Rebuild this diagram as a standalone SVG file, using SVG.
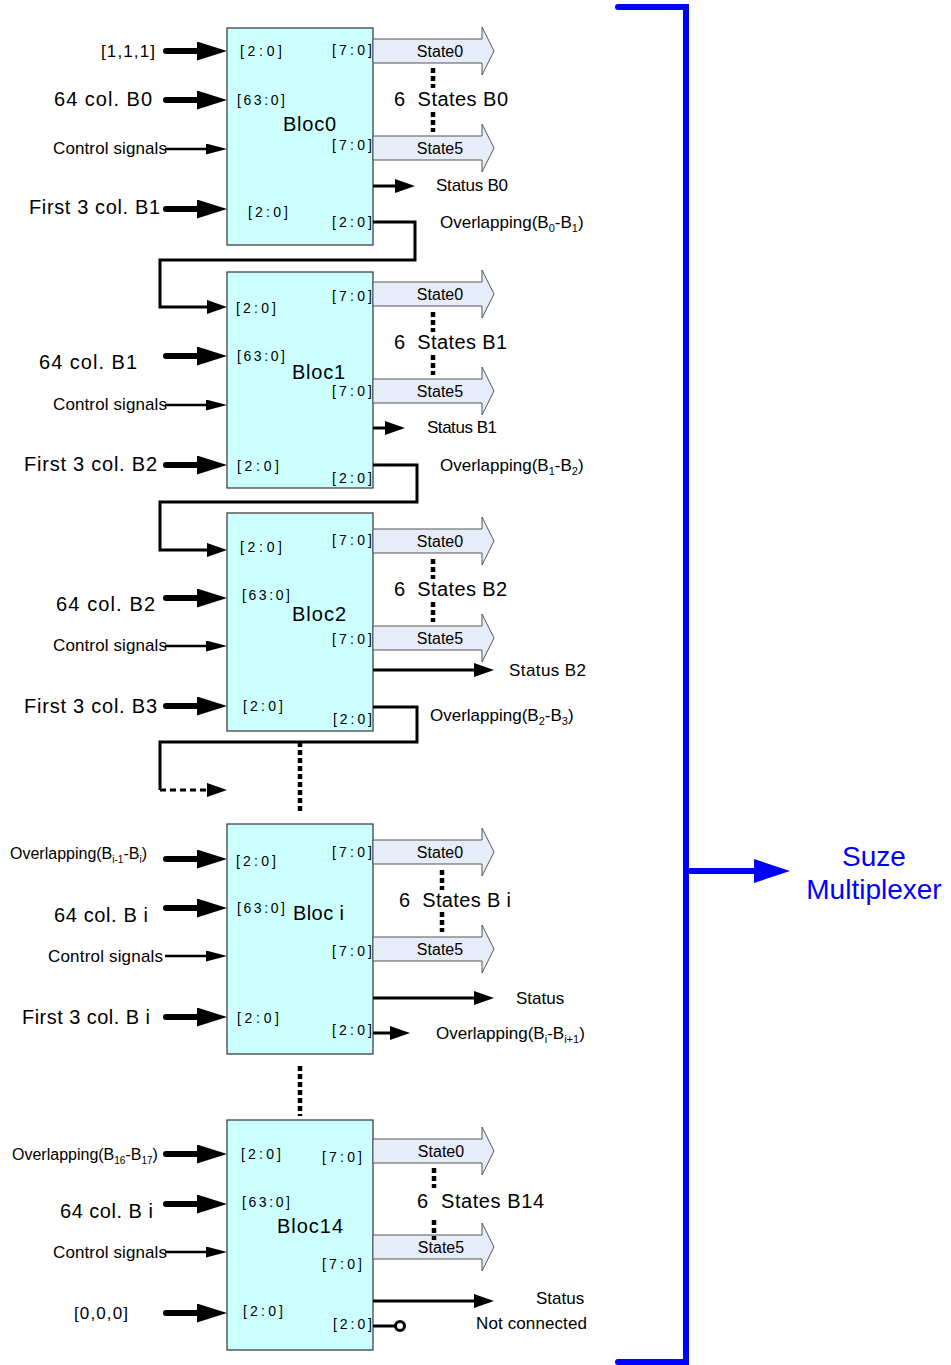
<svg xmlns="http://www.w3.org/2000/svg" width="951" height="1365" viewBox="0 0 951 1365">
<style>
text{font-family:"Liberation Sans",Arial,sans-serif;fill:#000}
.blk{fill:#ccffff;stroke:#333;stroke-width:1.2}
.t20{font-size:20px}
.t17{font-size:17px}
.t16{font-size:16px}
.pin{font-size:14px}
.ttl{font-size:20px}
.thick{fill:none;stroke:#000;stroke-width:6;stroke-linecap:round;marker-end:url(#mThick)}
.thin{fill:none;stroke:#000;stroke-width:2.5;marker-end:url(#mThin)}
.med{fill:none;stroke:#000;stroke-width:3;marker-end:url(#mMed)}
.wire{fill:none;stroke:#000;stroke-width:3;stroke-linejoin:miter}
.dots{fill:none;stroke:#000;stroke-width:4.5;stroke-dasharray:5 3}
.st{fill:#e6ecf8;stroke:#555;stroke-width:1}
.blue{fill:none;stroke:#0000ff;stroke-width:6}
.bt{font-size:28px;fill:#0000ff}
</style>
<defs>
<marker id="mThick" markerUnits="userSpaceOnUse" markerWidth="30" markerHeight="19" refX="8" refY="9.5" orient="auto"><path d="M0,0 L30,9.5 L0,19 z" fill="#000"/></marker>
<marker id="mThin" markerUnits="userSpaceOnUse" markerWidth="21" markerHeight="11" refX="5" refY="5.5" orient="auto"><path d="M0,0 L21,5.5 L0,11 z" fill="#000"/></marker>
<marker id="mMed" markerUnits="userSpaceOnUse" markerWidth="20" markerHeight="14" refX="5" refY="7" orient="auto"><path d="M0,0 L20,7 L0,14 z" fill="#000"/></marker>
<marker id="mBlue" markerUnits="userSpaceOnUse" markerWidth="36" markerHeight="24" refX="5" refY="12" orient="auto"><path d="M0,0 L36,12 L0,24 z" fill="#0000ff"/></marker>
<path id="stArrow" d="M0,-12 H109 V-24 L121,0 L109,24 V12 H0 Z"/>
</defs>

<!-- Blue bracket to multiplexer -->
<g id="multiplexer">
<path class="blue" d="M618,7 H686 V1362 H618" stroke-linecap="round"/>
<line class="blue" x1="686" y1="871" x2="759" y2="871" marker-end="url(#mBlue)"/>
<text class="bt" x="874" y="866" text-anchor="middle">Suze</text>
<text class="bt" x="874" y="899" text-anchor="middle">Multiplexer</text>
</g>

<!-- Bloc0 -->
<g id="bloc0">
<rect class="blk" x="227" y="28" width="146" height="217"/>
<text class="pin" x="240" y="56" textLength="42" lengthAdjust="spacing">[2:0]</text>
<text class="pin" x="332" y="55" textLength="40" lengthAdjust="spacing">[7:0]</text>
<text class="pin" x="237" y="105" textLength="48" lengthAdjust="spacing">[63:0]</text>
<text class="ttl" x="283" y="131" textLength="53" lengthAdjust="spacing">Bloc0</text>
<text class="pin" x="332" y="150" textLength="40" lengthAdjust="spacing">[7:0]</text>
<text class="pin" x="248" y="217" textLength="40" lengthAdjust="spacing">[2:0]</text>
<text class="pin" x="332" y="227" textLength="40" lengthAdjust="spacing">[2:0]</text>
</g>
<g id="bloc0-states">
<use href="#stArrow" class="st" x="373" y="51"/>
<text class="t16" x="440" y="57" text-anchor="middle">State0</text>
<use href="#stArrow" class="st" x="373" y="148"/>
<text class="t16" x="440" y="154" text-anchor="middle">State5</text>
<line class="dots" x1="433" y1="68" x2="433" y2="88"/>
<line class="dots" x1="433" y1="112" x2="433" y2="132"/>
<text class="t20" x="394" y="106" style="white-space:pre" textLength="114" lengthAdjust="spacing">6  States B0</text>
</g>

<!-- Bloc1 -->
<g id="bloc1">
<rect class="blk" x="227" y="272" width="146" height="216"/>
<text class="pin" x="236" y="313" textLength="40" lengthAdjust="spacing">[2:0]</text>
<text class="pin" x="332" y="301" textLength="40" lengthAdjust="spacing">[7:0]</text>
<text class="pin" x="237" y="361" textLength="48" lengthAdjust="spacing">[63:0]</text>
<text class="ttl" x="292" y="379" textLength="53" lengthAdjust="spacing">Bloc1</text>
<text class="pin" x="332" y="396" textLength="40" lengthAdjust="spacing">[7:0]</text>
<text class="pin" x="237" y="471" textLength="42" lengthAdjust="spacing">[2:0]</text>
<text class="pin" x="332" y="483" textLength="40" lengthAdjust="spacing">[2:0]</text>
</g>
<g id="bloc1-states">
<use href="#stArrow" class="st" x="373" y="294"/>
<text class="t16" x="440" y="300" text-anchor="middle">State0</text>
<use href="#stArrow" class="st" x="373" y="391"/>
<text class="t16" x="440" y="397" text-anchor="middle">State5</text>
<line class="dots" x1="433" y1="312" x2="433" y2="332"/>
<line class="dots" x1="433" y1="355" x2="433" y2="375"/>
<text class="t20" x="394" y="349" style="white-space:pre" textLength="113" lengthAdjust="spacing">6  States B1</text>
</g>

<!-- Bloc2 -->
<g id="bloc2">
<rect class="blk" x="227" y="513" width="146" height="218"/>
<text class="pin" x="240" y="552" textLength="42" lengthAdjust="spacing">[2:0]</text>
<text class="pin" x="332" y="545" textLength="40" lengthAdjust="spacing">[7:0]</text>
<text class="pin" x="242" y="600" textLength="48" lengthAdjust="spacing">[63:0]</text>
<text class="ttl" x="292" y="621" textLength="54" lengthAdjust="spacing">Bloc2</text>
<text class="pin" x="332" y="644" textLength="40" lengthAdjust="spacing">[7:0]</text>
<text class="pin" x="243" y="711" textLength="40" lengthAdjust="spacing">[2:0]</text>
<text class="pin" x="333" y="724" textLength="39" lengthAdjust="spacing">[2:0]</text>
</g>
<g id="bloc2-states">
<use href="#stArrow" class="st" x="373" y="541"/>
<text class="t16" x="440" y="547" text-anchor="middle">State0</text>
<use href="#stArrow" class="st" x="373" y="638"/>
<text class="t16" x="440" y="644" text-anchor="middle">State5</text>
<line class="dots" x1="433" y1="559" x2="433" y2="579"/>
<line class="dots" x1="433" y1="602" x2="433" y2="622"/>
<text class="t20" x="394" y="596" style="white-space:pre" textLength="113" lengthAdjust="spacing">6  States B2</text>
</g>

<!-- Bloc i -->
<g id="bloci">
<rect class="blk" x="227" y="824" width="146" height="230"/>
<text class="pin" x="236" y="866" textLength="40" lengthAdjust="spacing">[2:0]</text>
<text class="pin" x="332" y="857" textLength="40" lengthAdjust="spacing">[7:0]</text>
<text class="pin" x="237" y="913" textLength="48" lengthAdjust="spacing">[63:0]</text>
<text class="ttl" x="293" y="920" textLength="51" lengthAdjust="spacing">Bloc i</text>
<text class="pin" x="332" y="956" textLength="40" lengthAdjust="spacing">[7:0]</text>
<text class="pin" x="237" y="1023" textLength="42" lengthAdjust="spacing">[2:0]</text>
<text class="pin" x="332" y="1035" textLength="40" lengthAdjust="spacing">[2:0]</text>
</g>
<g id="bloci-states">
<use href="#stArrow" class="st" x="373" y="852"/>
<text class="t16" x="440" y="858" text-anchor="middle">State0</text>
<use href="#stArrow" class="st" x="373" y="949"/>
<text class="t16" x="440" y="955" text-anchor="middle">State5</text>
<line class="dots" x1="442" y1="870" x2="442" y2="890"/>
<line class="dots" x1="442" y1="912" x2="442" y2="932"/>
<text class="t20" x="399" y="907" style="white-space:pre" textLength="112" lengthAdjust="spacing">6  States B i</text>
</g>

<!-- Bloc14 -->
<g id="bloc14">
<rect class="blk" x="227" y="1120" width="146" height="230"/>
<text class="pin" x="241" y="1159" textLength="40" lengthAdjust="spacing">[2:0]</text>
<text class="pin" x="322" y="1162" textLength="40" lengthAdjust="spacing">[7:0]</text>
<text class="pin" x="242" y="1207" textLength="48" lengthAdjust="spacing">[63:0]</text>
<text class="ttl" x="277" y="1233" textLength="66" lengthAdjust="spacing">Bloc14</text>
<text class="pin" x="322" y="1269" textLength="40" lengthAdjust="spacing">[7:0]</text>
<text class="pin" x="243" y="1316" textLength="40" lengthAdjust="spacing">[2:0]</text>
<text class="pin" x="333" y="1329" textLength="39" lengthAdjust="spacing">[2:0]</text>
</g>
<g id="bloc14-states">
<use href="#stArrow" class="st" x="373" y="1151"/>
<text class="t16" x="441" y="1157" text-anchor="middle">State0</text>
<use href="#stArrow" class="st" x="373" y="1247"/>
<text class="t16" x="441" y="1253" text-anchor="middle">State5</text>
<line class="dots" x1="434" y1="1168" x2="434" y2="1188"/>
<line class="dots" x1="434" y1="1220" x2="434" y2="1240"/>
<text class="t20" x="417" y="1208" style="white-space:pre" textLength="127" lengthAdjust="spacing">6  States B14</text>
</g>

<!-- Connectors -->
<g id="connectors">
<!-- Bloc0 inputs -->
<line class="thick" x1="166" y1="51" x2="205" y2="51"/>
<line class="thick" x1="166" y1="100" x2="205" y2="100"/>
<line class="thin" x1="165" y1="149" x2="211" y2="149"/>
<line class="thick" x1="166" y1="209" x2="205" y2="209"/>
<!-- Bloc0 outputs -->
<line class="med" x1="373" y1="186" x2="400" y2="186"/>
<path class="wire" d="M373,222 H415 V260 H160 V307 H212" marker-end="url(#mMed)"/>
<!-- Bloc1 inputs -->
<line class="thick" x1="166" y1="356" x2="205" y2="356"/>
<line class="thin" x1="165" y1="405" x2="211" y2="405"/>
<line class="thick" x1="166" y1="465" x2="205" y2="465"/>
<!-- Bloc1 outputs -->
<line class="med" x1="373" y1="428" x2="390" y2="428"/>
<path class="wire" d="M373,465 H417 V502 H160 V550 H212" marker-end="url(#mMed)"/>
<!-- Bloc2 inputs -->
<line class="thick" x1="166" y1="598" x2="205" y2="598"/>
<line class="thin" x1="165" y1="646" x2="211" y2="646"/>
<line class="thick" x1="166" y1="706" x2="205" y2="706"/>
<!-- Bloc2 outputs -->
<line class="med" x1="373" y1="670" x2="479" y2="670"/>
<path class="wire" d="M373,707 H417 V742 H160 V790"/>
<line class="wire" x1="160" y1="790" x2="212" y2="790" stroke-dasharray="6 4" marker-end="url(#mMed)"/>
<line class="dots" x1="300" y1="742" x2="300" y2="814"/>
<!-- Bloc i inputs -->
<line class="thick" x1="166" y1="859" x2="205" y2="859"/>
<line class="thick" x1="166" y1="908" x2="205" y2="908"/>
<line class="thin" x1="165" y1="956" x2="211" y2="956"/>
<line class="thick" x1="166" y1="1017" x2="205" y2="1017"/>
<!-- Bloc i outputs -->
<line class="med" x1="373" y1="998" x2="479" y2="998"/>
<line class="med" x1="373" y1="1033" x2="395" y2="1033"/>
<line class="dots" x1="300" y1="1066" x2="300" y2="1116"/>
<!-- Bloc14 inputs -->
<line class="thick" x1="166" y1="1154" x2="205" y2="1154"/>
<line class="thick" x1="166" y1="1204" x2="205" y2="1204"/>
<line class="thin" x1="165" y1="1252" x2="211" y2="1252"/>
<line class="thick" x1="166" y1="1313" x2="205" y2="1313"/>
<!-- Bloc14 outputs -->
<line class="med" x1="373" y1="1301" x2="479" y2="1301"/>
<line class="wire" x1="373" y1="1326" x2="396" y2="1326"/>
<circle cx="400" cy="1326" r="4.5" fill="#fff" stroke="#000" stroke-width="3"/>
</g>

<!-- Labels -->
<g id="labels">
<text class="t17" x="101" y="57" textLength="54" lengthAdjust="spacing">[1,1,1]</text>
<text class="t20" x="54" y="106" textLength="98" lengthAdjust="spacing">64 col. B0</text>
<text class="t17" x="53" y="154" textLength="114" lengthAdjust="spacing">Control signals</text>
<text class="t20" x="29" y="214" textLength="131" lengthAdjust="spacing">First 3 col. B1</text>
<text class="t17" x="436" y="191" textLength="72" lengthAdjust="spacing">Status B0</text>
<text class="t17" x="440" y="228">Overlapping(B<tspan font-size="11" dy="4">0</tspan><tspan dy="-4">-B</tspan><tspan font-size="11" dy="4">1</tspan><tspan dy="-4">)</tspan></text>

<text class="t20" x="39" y="369" textLength="98" lengthAdjust="spacing">64 col. B1</text>
<text class="t17" x="53" y="410" textLength="114" lengthAdjust="spacing">Control signals</text>
<text class="t20" x="24" y="471" textLength="133" lengthAdjust="spacing">First 3 col. B2</text>
<text class="t17" x="427" y="433" textLength="70" lengthAdjust="spacing">Status B1</text>
<text class="t17" x="440" y="471">Overlapping(B<tspan font-size="11" dy="4">1</tspan><tspan dy="-4">-B</tspan><tspan font-size="11" dy="4">2</tspan><tspan dy="-4">)</tspan></text>

<text class="t20" x="56" y="611" textLength="99" lengthAdjust="spacing">64 col. B2</text>
<text class="t17" x="53" y="651" textLength="114" lengthAdjust="spacing">Control signals</text>
<text class="t20" x="24" y="713" textLength="133" lengthAdjust="spacing">First 3 col. B3</text>
<text class="t17" x="509" y="676" textLength="77" lengthAdjust="spacing">Status B2</text>
<text class="t17" x="430" y="721">Overlapping(B<tspan font-size="11" dy="4">2</tspan><tspan dy="-4">-B</tspan><tspan font-size="11" dy="4">3</tspan><tspan dy="-4">)</tspan></text>

<text class="t16" x="10" y="859">Overlapping(B<tspan font-size="10" dy="4">i-1</tspan><tspan dy="-4">-B</tspan><tspan font-size="10" dy="4">i</tspan><tspan dy="-4">)</tspan></text>
<text class="t20" x="54" y="922" textLength="94" lengthAdjust="spacing">64 col. B i</text>
<text class="t17" x="48" y="962" textLength="115" lengthAdjust="spacing">Control signals</text>
<text class="t20" x="22" y="1024" textLength="128" lengthAdjust="spacing">First 3 col. B i</text>
<text class="t17" x="516" y="1004">Status</text>
<text class="t17" x="436" y="1039">Overlapping(B<tspan font-size="11" dy="4">i</tspan><tspan dy="-4">-B</tspan><tspan font-size="11" dy="4">i+1</tspan><tspan dy="-4">)</tspan></text>

<text class="t16" x="12" y="1160">Overlapping(B<tspan font-size="10" dy="4">16</tspan><tspan dy="-4">-B</tspan><tspan font-size="10" dy="4">17</tspan><tspan dy="-4">)</tspan></text>
<text class="t20" x="60" y="1218" textLength="93" lengthAdjust="spacing">64 col. B i</text>
<text class="t17" x="53" y="1258" textLength="114" lengthAdjust="spacing">Control signals</text>
<text class="t17" x="74" y="1319" textLength="54" lengthAdjust="spacing">[0,0,0]</text>
<text class="t17" x="536" y="1304">Status</text>
<text class="t17" x="476" y="1329" textLength="111" lengthAdjust="spacing">Not connected</text>
</g>
</svg>
